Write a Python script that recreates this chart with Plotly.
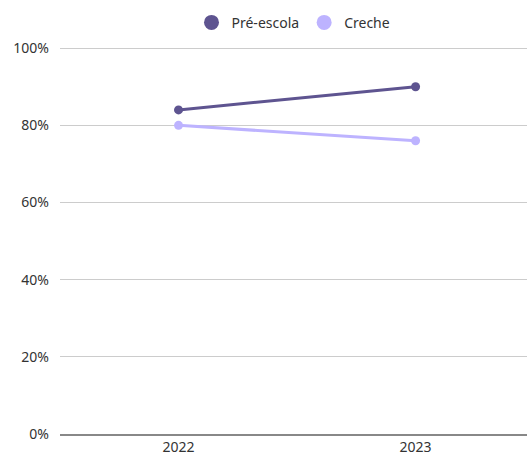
import plotly.graph_objects as go

years = ["2022", "2023"]
pre_escola = [84, 90]
creche = [80, 76]
series_names = ["Pré-escola", "Creche"]
colors = ["#5E5490", "#BDB3FF"]
y_ticks = [0, 20, 40, 60, 80, 100]
y_tick_labels = [f"{v}%" for v in y_ticks]

fig = go.Figure()
for name, vals, col in zip(series_names, [pre_escola, creche], colors):
    fig.add_trace(go.Scatter(x=years, y=vals, mode="lines+markers", name=name,
                             line=dict(color=col, width=3),
                             marker=dict(color=col, size=9), showlegend=False))
for name, col in zip(series_names, colors):
    fig.add_trace(go.Scatter(x=[None], y=[None], mode="markers", name=name,
                             marker=dict(color=col, size=15)))

fig.update_layout(
    width=527, height=454,
    margin=dict(l=60, r=0, t=47, b=20, autoexpand=False),
    paper_bgcolor="white", plot_bgcolor="white",
    font=dict(family="Noto Sans", size=14, color="#333333"),
    legend=dict(orientation="h", x=0.5, xanchor="center", y=0.985, yanchor="top",
                yref="container", font=dict(size=14), itemsizing="trace",
                itemwidth=30),
    xaxis=dict(type="category", range=[-0.5, 1.47], showgrid=False,
               showline=True, linecolor="#888888", linewidth=1.5, ticks="",
               tickfont=dict(size=14), automargin=False, ticklabelstandoff=-1),
    yaxis=dict(range=[0, 100.3], tickvals=y_ticks, ticktext=y_tick_labels,
               showgrid=True, gridcolor="#cccccc", gridwidth=1, zeroline=False,
               ticks="", tickfont=dict(size=14), ticklabelstandoff=10,
               automargin=False),
)
fig.write_html("out.html", config={"displayModeBar": False},
               post_script="document.body.style.margin='0';")
